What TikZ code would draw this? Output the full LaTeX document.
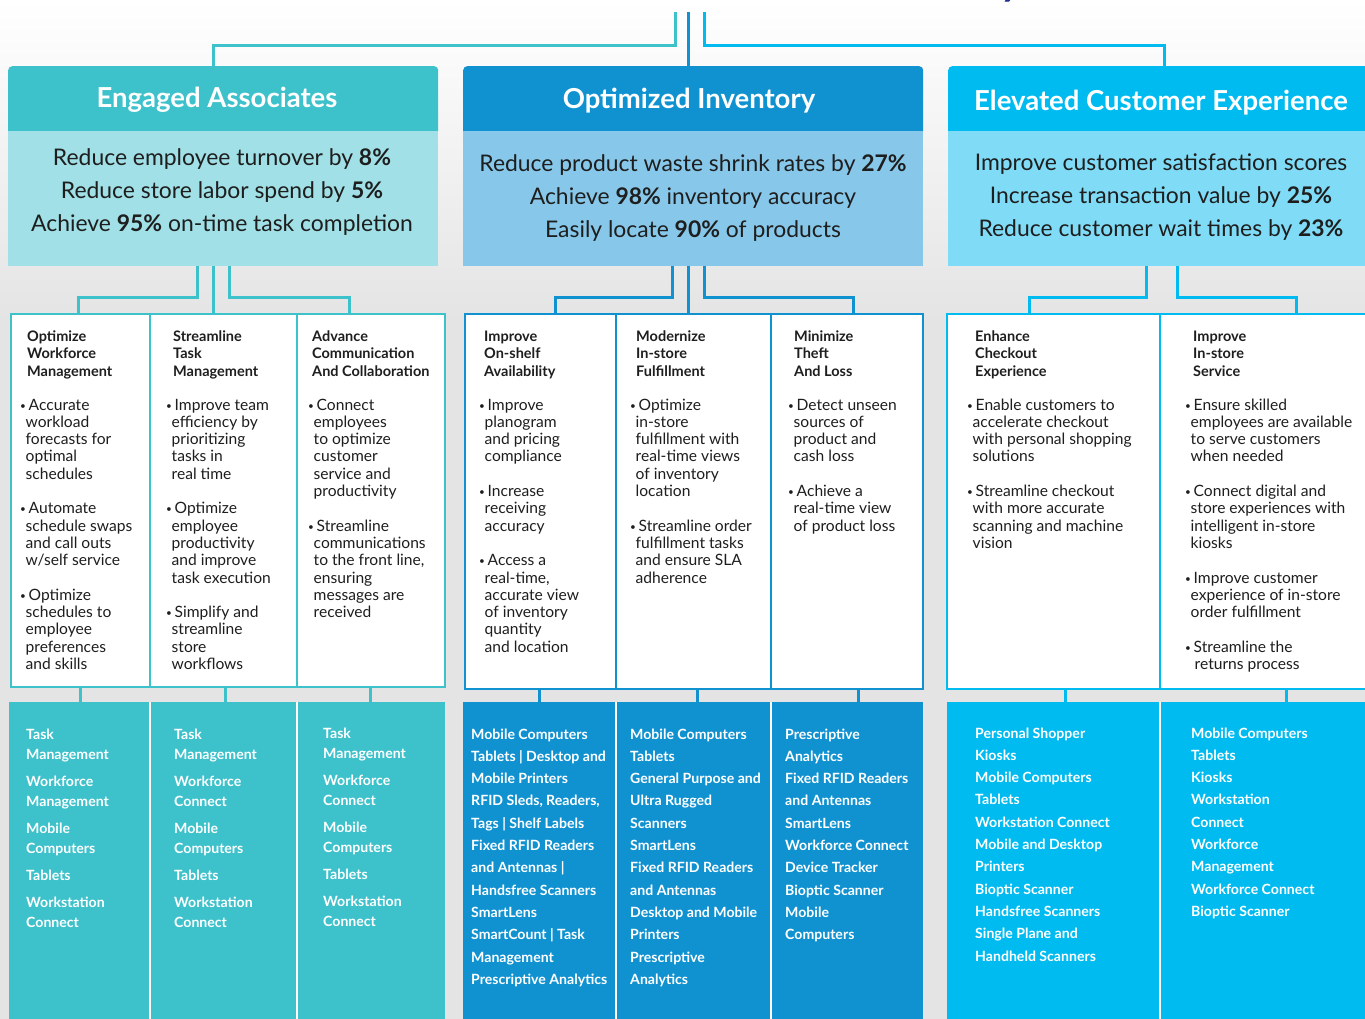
\documentclass[tikz,border=0pt]{standalone}
\usepackage{fontspec}
\setmainfont{Lato}
\definecolor{cteal}{HTML}{3DC1CB}
\definecolor{ctealL}{HTML}{A0E0E6}
\definecolor{cblue}{HTML}{1192D0}
\definecolor{cblueL}{HTML}{87C8EA}
\definecolor{ccyan}{HTML}{00BBF0}
\definecolor{ccyanL}{HTML}{80DCF6}
\definecolor{bggray}{HTML}{E4E4E4}
\definecolor{txtdark}{HTML}{1E1E1E}
\definecolor{navy}{HTML}{1F2B8F}
\newcommand{\bu}{\makebox[8.5pt][l]{\raisebox{1pt}{\fontsize{10}{10}\selectfont\textbullet}}}
\newcommand{\cn}{\hspace*{5.5pt}}
\begin{document}
\begin{tikzpicture}[x=1pt,y=-1pt,
  conn/.style={line width=3pt},
  hdrbox/.style={rounded corners=4pt, inner sep=0pt, anchor=north west, minimum height=69pt},
  subbox/.style={inner sep=0pt, anchor=north west, minimum height=135pt},
  midbox/.style={fill=white, line width=2pt, inner sep=0pt, anchor=north west},
  botbox/.style={inner sep=0pt, anchor=north west},
  divline/.style={line width=1.2pt},
  ttl/.style={anchor=base, inner sep=0pt, text=white, font=\fontsize{27.5}{30}\selectfont\bfseries},
  subt/.style={anchor=base, inner sep=0pt, text=txtdark, font=\fontsize{22.9}{33}\selectfont},
  mhead/.style={anchor=base west, inner sep=0pt, text=txtdark, font=\fontsize{14.5}{17.5}\selectfont\bfseries},
  mtxt/.style={anchor=base west, inner sep=0pt, text=txtdark, font=\fontsize{15.6}{17.3}\selectfont},
  btxt/.style={anchor=base west, inner sep=0pt, text=white, font=\fontsize{14.1}{22.3}\selectfont\bfseries},
  btxtA/.style={anchor=base west, inner sep=0pt, text=white, font=\fontsize{14.1}{20}\selectfont\bfseries}
]
\useasboundingbox (0,0) rectangle (1365,1019);
% background
\shade[top color=white, bottom color=bggray] (0,0) rectangle (1365,320);
\fill[bggray] (0,320) rectangle (1365,1019);
\node[anchor=base west, inner sep=0pt, text=navy, font=\fontsize{40}{40}\selectfont\bfseries] (ttlY) at (1000,-4) {y};

% trunk
\coordinate (trunkT) at (675,12);
\coordinate (trunkB) at (688,12);
\coordinate (trunkC) at (704,12);

% header boxes
\node[hdrbox, fill=cteal, minimum width=430pt] (eaT) at (8,66) {};
\node[subbox, fill=ctealL, minimum width=430pt] (eaS) at (8,131) {};
\node[hdrbox, fill=cblue, minimum width=460pt] (oiT) at (463,66) {};
\node[subbox, fill=cblueL, minimum width=460pt] (oiS) at (463,131) {};
\node[hdrbox, fill=ccyan, minimum width=430pt] (ecT) at (948,66) {};
\node[subbox, fill=ccyanL, minimum width=430pt] (ecS) at (948,131) {};

\draw[conn, cteal] (trunkT) |- (213,46) -- (213,66);
\draw[conn, cblue] (trunkB) -- (688,66);
\draw[conn, ccyan] (trunkC) |- (1164,46) -- (1164,66);

\node[ttl] (eaTt) at (217,108) {Engaged Associates};
\node[ttl] (oiTt) at (689,109) {Optimized Inventory};
\node[ttl] (ecTt) at (1161,111) {Elevated Customer Experience};

\node[subt] (eaSt) at (222,166) {\parbox[t]{440pt}{\centering Reduce employee turnover by \textbf{8\%}\\Reduce store labor spend by \textbf{5\%}\\Achieve \textbf{95\%} on-time task completion}};
\node[subt] (oiSt) at (693,172) {\parbox[t]{460pt}{\centering Reduce product waste shrink rates by \textbf{27\%}\\Achieve \textbf{98\%} inventory accuracy\\Easily locate \textbf{90\%} of products}};
\node[subt] (ecSt) at (1161,171) {\parbox[t]{440pt}{\centering Improve customer satisfaction scores\\Increase transaction value by \textbf{25\%}\\Reduce customer wait times by \textbf{23\%}}};

% middle connectors
\draw[conn, cteal] (197,266) |- (78,297) -- (78,313);
\draw[conn, cteal] (213,266) -- (213,313);
\draw[conn, cteal] (229,266) |- (349,297) -- (349,313);
\draw[conn, cblue] (672,266) |- (555,297) -- (555,313);
\draw[conn, cblue] (688,266) -- (688,313);
\draw[conn, cblue] (704,266) |- (853,297) -- (853,313);
\draw[conn, ccyan] (1146,266) |- (1029,297) -- (1029,313);
\draw[conn, ccyan] (1177,266) |- (1296,297) -- (1296,313);

% bottom connectors
\foreach \xx in {80,225,370} \draw[conn, cteal] (\xx,684) -- (\xx,704);
\foreach \xx in {539,697,858} \draw[conn, cblue] (\xx,686) -- (\xx,704);
\foreach \xx in {1065,1286} \draw[conn, ccyan] (\xx,686) -- (\xx,704);

% middle boxes
\node[midbox, draw=cteal, minimum width=434pt, minimum height=373pt] (eaM) at (10,313) {};
\node[midbox, draw=cblue, minimum width=458pt, minimum height=375pt] (oiM) at (464,313) {};
\node[midbox, draw=ccyan, minimum width=440pt, minimum height=375pt] (ecM) at (946,313) {};
\draw[divline, cteal] (150,313) -- (150,686);
\draw[divline, cteal] (297,313) -- (297,686);
\draw[divline, cblue] (616,313) -- (616,688);
\draw[divline, cblue] (771,313) -- (771,688);
\draw[divline, ccyan] (1160,313) -- (1160,688);

% bottom panels
\node[botbox, fill=cteal, minimum width=436pt, minimum height=317pt] (eaB) at (9,702) {};
\node[botbox, fill=cblue, minimum width=460pt, minimum height=317pt] (oiB) at (463,702) {};
\node[botbox, fill=ccyan, minimum width=430pt, minimum height=317pt] (ecB) at (947,702) {};
\draw[divline, white] (150,702) -- (150,1019);
\draw[divline, white] (297,702) -- (297,1019);
\draw[divline, white] (616,702) -- (616,1019);
\draw[divline, white] (771,702) -- (771,1019);
\draw[divline, white] (1160,702) -- (1160,1019);

% middle headings
\node[mhead] (h1) at (27,341) {\parbox[t]{140pt}{Optimize\\Workforce\\Management}};
\node[mhead] (h2) at (173,341) {\parbox[t]{140pt}{Streamline\\Task\\Management}};
\node[mhead] (h3) at (312,341) {\parbox[t]{140pt}{Advance\\Communication\\And Collaboration}};
\node[mhead] (h4) at (484,341) {\parbox[t]{140pt}{Improve\\On-shelf\\Availability}};
\node[mhead] (h5) at (636,341) {\parbox[t]{140pt}{Modernize\\In-store\\Fulfillment}};
\node[mhead] (h6) at (794,341) {\parbox[t]{140pt}{Minimize\\Theft\\And Loss}};
\node[mhead] (h7) at (975,341) {\parbox[t]{140pt}{Enhance\\Checkout\\Experience}};
\node[mhead] (h8) at (1193,341) {\parbox[t]{140pt}{Improve\\In-store\\Service}};

% middle bullets
\node[mtxt] (b1) at (20,410) {\parbox[t]{200pt}{\bu Accurate\\\cn workload\\\cn forecasts for\\\cn optimal\\\cn schedules\\[\baselineskip]\bu Automate\\\cn schedule swaps\\\cn and call outs\\\cn w/self service\\[\baselineskip]\bu Optimize\\\cn schedules to\\\cn employee\\\cn preferences\\\cn and skills}};
\node[mtxt] (b2) at (166,410) {\parbox[t]{200pt}{\bu Improve team\\\cn efficiency by\\\cn prioritizing\\\cn tasks in\\\cn real time\\[\baselineskip]\bu Optimize\\\cn employee\\\cn productivity\\\cn and improve\\\cn task execution\\[\baselineskip]\bu Simplify and\\\cn streamline\\\cn store\\\cn workflows}};
\node[mtxt] (b3) at (308,410) {\parbox[t]{200pt}{\bu Connect\\\cn employees\\\cn to optimize\\\cn customer\\\cn service and\\\cn productivity\\[\baselineskip]\bu Streamline\\\cn communications\\\cn to the front line,\\\cn ensuring\\\cn messages are\\\cn received}};
\node[mtxt] (b4) at (479,410) {\parbox[t]{200pt}{\bu Improve\\\cn planogram\\\cn and pricing\\\cn compliance\\[\baselineskip]\bu Increase\\\cn receiving\\\cn accuracy\\[\baselineskip]\bu Access a\\\cn real-time,\\\cn accurate view\\\cn of inventory\\\cn quantity\\\cn and location}};
\node[mtxt] (b5) at (630,410) {\parbox[t]{200pt}{\bu Optimize\\\cn in-store\\\cn fulfillment with\\\cn real-time views\\\cn of inventory\\\cn location\\[\baselineskip]\bu Streamline order\\\cn fulfillment tasks\\\cn and ensure SLA\\\cn adherence}};
\node[mtxt] (b6) at (788,410) {\parbox[t]{200pt}{\bu Detect unseen\\\cn sources of\\\cn product and\\\cn cash loss\\[\baselineskip]\bu Achieve a\\\cn real-time view\\\cn of product loss}};
\node[mtxt] (b7) at (967,410) {\parbox[t]{220pt}{\bu Enable customers to\\\cn accelerate checkout\\\cn with personal shopping\\\cn solutions\\[\baselineskip]\bu Streamline checkout\\\cn with more accurate\\\cn scanning and machine\\\cn vision}};
\node[mtxt] (b8) at (1185,410) {\parbox[t]{220pt}{\bu Ensure skilled\\\cn employees are available\\\cn to serve customers\\\cn when needed\\[\baselineskip]\bu Connect digital and\\\cn store experiences with\\\cn intelligent in-store\\\cn kiosks\\[\baselineskip]\bu Improve customer\\\cn experience of in-store\\\cn order fulfillment\\[\baselineskip]\bu Streamline the\\\cn\hspace*{4pt}returns process}};

% bottom texts
\node[btxtA] (p1) at (26,739) {\parbox[t]{140pt}{Task\\Management\\[7pt]Workforce\\Management\\[7pt]Mobile\\Computers\\[7pt]Tablets\\[7pt]Workstation\\Connect}};
\node[btxtA] (p2) at (174,739) {\parbox[t]{140pt}{Task\\Management\\[7pt]Workforce\\Connect\\[7pt]Mobile\\Computers\\[7pt]Tablets\\[7pt]Workstation\\Connect}};
\node[btxtA] (p3) at (323,738) {\parbox[t]{140pt}{Task\\Management\\[7pt]Workforce\\Connect\\[7pt]Mobile\\Computers\\[7pt]Tablets\\[7pt]Workstation\\Connect}};
\node[btxt] (p4) at (471,739) {\parbox[t]{160pt}{Mobile Computers\\Tablets | Desktop and\\Mobile Printers\\RFID Sleds, Readers,\\Tags | Shelf Labels\\Fixed RFID Readers\\and Antennas |\\Handsfree Scanners\\SmartLens\\SmartCount | Task\\Management\\Prescriptive Analytics}};
\node[btxt] (p5) at (630,739) {\parbox[t]{160pt}{Mobile Computers\\Tablets\\General Purpose and\\Ultra Rugged\\Scanners\\SmartLens\\Fixed RFID Readers\\and Antennas\\Desktop and Mobile\\Printers\\Prescriptive\\Analytics}};
\node[btxt] (p6) at (785,739) {\parbox[t]{160pt}{Prescriptive\\Analytics\\Fixed RFID Readers\\and Antennas\\SmartLens\\Workforce Connect\\Device Tracker\\Bioptic Scanner\\Mobile\\Computers}};
\node[btxt] (p7) at (975,738) {\parbox[t]{180pt}{Personal Shopper\\Kiosks\\Mobile Computers\\Tablets\\Workstation Connect\\Mobile and Desktop\\Printers\\Bioptic Scanner\\Handsfree Scanners\\Single Plane and\\Handheld Scanners}};
\node[btxt] (p8) at (1191,738) {\parbox[t]{170pt}{Mobile Computers\\Tablets\\Kiosks\\Workstation\\Connect\\Workforce\\Management\\Workforce Connect\\Bioptic Scanner}};
\end{tikzpicture}
\end{document}
